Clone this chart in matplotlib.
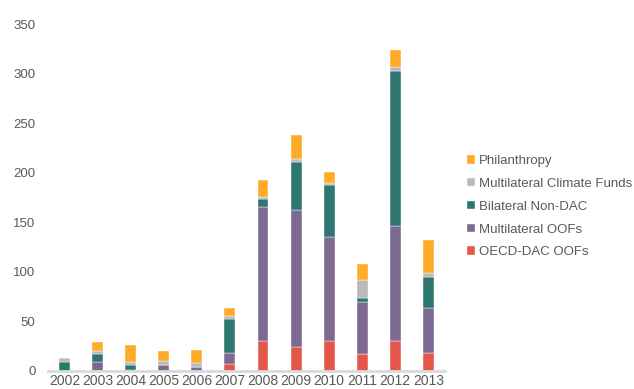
import matplotlib.pyplot as plt
import numpy as np

plt.rcParams['font.family'] = ['Liberation Sans', 'DejaVu Sans']

years = ['2002', '2003', '2004', '2005', '2006', '2007',
         '2008', '2009', '2010', '2011', '2012', '2013']

oecd_dac = [0, 0, 0, 0, 0, 7, 30, 24, 30, 17, 30, 18.5]
multilateral_oofs = [0, 9, 1.5, 6, 4, 11, 135, 138, 105, 52.5, 116, 45.5]
bilateral_non_dac = [9, 8.5, 5, 0, 0, 34, 8, 49, 53, 4.5, 157, 31]
climate_funds = [4, 2.5, 2.5, 4, 4, 3, 2, 3, 2, 17.5, 3.5, 3.5]
philanthropy = [0, 9.5, 17, 10, 13, 8.5, 17.5, 24, 11, 16, 17, 34]

series = [
    ('OECD-DAC OOFs', oecd_dac, '#E5564A'),
    ('Multilateral OOFs', multilateral_oofs, '#7D6A93'),
    ('Bilateral Non-DAC', bilateral_non_dac, '#2E7670'),
    ('Multilateral Climate Funds', climate_funds, '#B9B9B9'),
    ('Philanthropy', philanthropy, '#FFAB27'),
]

fig = plt.figure(figsize=(6.34, 3.89), dpi=100)
ax = fig.add_axes([0.0757, 0.0463, 0.626, 0.892])

x = np.arange(len(years))
bottom = np.zeros(len(years))
handles = []
for name, vals, color in series:
    vals = np.array(vals, dtype=float)
    b = ax.bar(x, vals, 0.33, bottom=bottom, color=color,
               edgecolor='white', linewidth=0.3, label=name)
    handles.append(b)
    bottom += vals

ax.set_xlim(-0.5, len(years) - 0.5)
ax.set_ylim(0, 350)
ax.set_yticks(range(0, 351, 50))
ax.set_xticks(x)
ax.set_xticklabels(years)
ax.tick_params(length=0, colors='#595959')
ax.tick_params(axis='x', labelsize=10, pad=2)
ax.tick_params(axis='y', labelsize=9.5, pad=9)
for s in ['top', 'right', 'left']:
    ax.spines[s].set_visible(False)
ax.spines['bottom'].set_color('#D9D9D9')
ax.spines['bottom'].set_linewidth(2)

leg = fig.legend(handles[::-1], [s[0] for s in series][::-1],
                 loc='upper left', bbox_to_anchor=(0.728, 0.615),
                 frameon=False, fontsize=9.5, handlelength=0.6,
                 handleheight=0.6, handletextpad=0.3, labelspacing=0.82,
                 borderaxespad=0)
for t in leg.get_texts():
    t.set_color('#595959')

fig.savefig('out.png', dpi=100)
